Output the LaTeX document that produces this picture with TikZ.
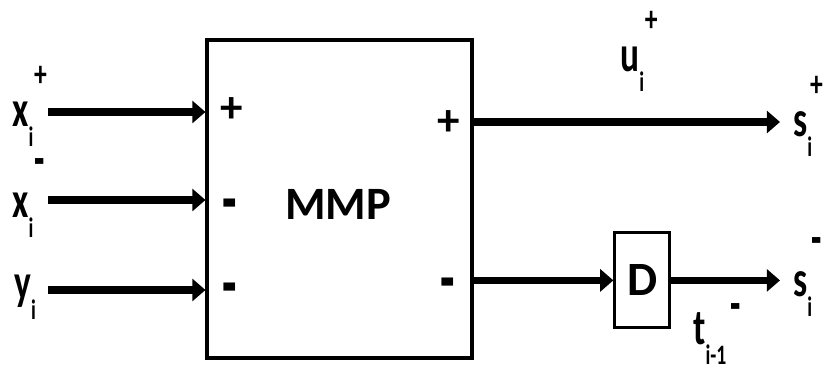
\documentclass[tikz,border=0pt]{standalone}
\usepackage{fontspec}
\setmainfont{Carlito}
\newfontfamily\sigfont[FakeStretch=0.7]{Carlito}
\newfontfamily\dashfont[FakeStretch=0.6]{Carlito}
\usepackage{tikz}
\usetikzlibrary{arrows.meta,positioning}

\newcommand{\sig}[4][4pt]{{\sigfont\bfseries #2\rlap{\raisebox{-14pt}{\fontsize{20}{20}\selectfont #4}}%
  \kern #1\raisebox{29pt}{\fontsize{26}{26}\selectfont #3}}}
\newcommand{\supminus}{{\dashfont\fontsize{40}{40}\selectfont\bfseries -}}

\begin{document}
\begin{tikzpicture}[
  font=\bfseries,
  block/.style={draw,line width=2.2pt,fill=white,inner sep=0pt},
  sign/.style={inner sep=0pt,font=\fontsize{32}{32}\selectfont\bfseries},
  dash sign/.style={inner sep=0pt,font=\dashfont\fontsize{56}{56}\selectfont\bfseries},
  label/.style={anchor=base west,inner sep=0pt,font=\fontsize{36}{36}\selectfont},
  sigline/.style={-{Triangle[length=3.3mm,width=5.5mm]},line width=5.5pt}
]
\useasboundingbox (0,0) rectangle (20.6,-9.25);
\node[block,minimum width=6.625cm,minimum height=7.95cm] (mmp) at (8.4875,-4.975) {};
\node[font=\fontsize{33}{33}\selectfont\bfseries] (name) at (8.45,-5.1) {MMP};
\node[block,minimum width=1.375cm,minimum height=2.375cm,
  font=\fontsize{34}{34}\selectfont\bfseries] (d) at (16.06,-7.01) {D};
\node[sign] (p1) at (5.8,-2.75) {+};
\node[dash sign] (p2) at (5.75,-5.3) {-};
\node[dash sign] (p3) at (5.75,-7.4) {-};
\node[sign] (q1) at (11.225,-3.075) {+};
\node[dash sign] (q2) at (11.2,-7.28) {-};
\coordinate (in1) at (1.2,-2.8);
\coordinate (in2) at (1.2,-5.0);
\coordinate (in3) at (1.2,-7.25);
\coordinate (sp) at (19.5,-3.05);
\coordinate (sm) at (19.5,-7.01);
\draw[sigline] (in1) -- (in1 -| mmp.west);
\draw[sigline] (in2) -- (in2 -| mmp.west);
\draw[sigline] (in3) -- (in3 -| mmp.west);
\draw[sigline] (mmp.east |- sp) -- (sp);
\draw[sigline] (mmp.east |- d.west) -- (d.west);
\draw[sigline] (d.east) -- (sm);
\node[label] (xp) at (0.3,-3.175) {\sig{x}{+}{i}};
\node[label] (xm) at (0.3,-5.45) {\sig{x}{\supminus}{i}};
\node[label] (y) at (0.35,-7.5) {\sig{y}{}{i}};
\node[label] (u) at (15.5,-1.8) {\sig{u}{+}{i}};
\node[label] (sp lab) at (19.825,-3.425) {\sig[2pt]{s}{+}{i}};
\node[label] (sm lab) at (19.825,-7.425) {\sig[3pt]{s}{\supminus}{i}};
\node[label] (t) at (17.325,-8.625) {\sig[18pt]{t}{\raisebox{-13pt}{\supminus}}{i-1}};
\end{tikzpicture}
\end{document}
